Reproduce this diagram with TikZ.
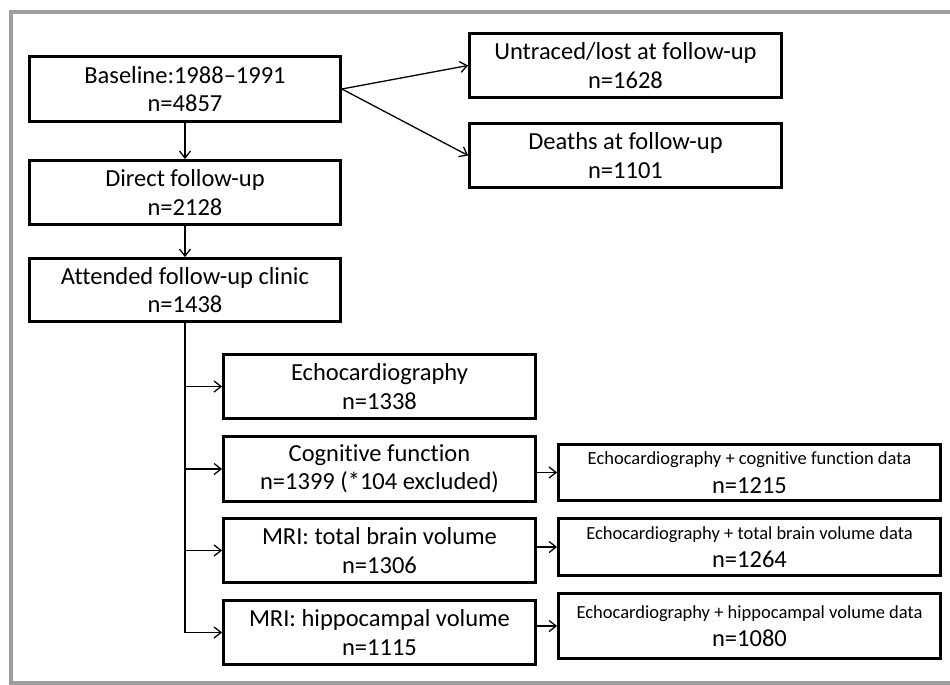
\documentclass[tikz,border=0pt]{standalone}
\usepackage{fontspec}
\setmainfont{Carlito}[Ligatures=NoCommon]
\usetikzlibrary{arrows.meta}
\begin{document}
\begin{tikzpicture}[x=1pt,y=-1pt,
  box/.style={draw,line width=2.8pt,align=center,inner sep=0pt,font=\fontsize{24.5}{28.5}\selectfont},
  lbox/.style={box,minimum width=311pt},
  rbox/.style={box,minimum width=382pt},
  conn/.style={line width=1.3pt,-{Straight Barb[length=7pt,width=11pt,line width=1.3pt]}},
  trunk/.style={line width=1.3pt},
  frame/.style={draw=black!38,line width=4pt}]
\useasboundingbox (0,0) rectangle (950,685);
\draw[frame] (952,12) -- (11,12) -- (11,683) -- (952,683);
% left column
\node[lbox,minimum height=65pt] (base) at (185,89) {Baseline:1988–1991\\n=4857};
\node[lbox,minimum height=64pt] (direct) at (185,192.5) {Direct follow-up\\n=2128};
\node[lbox,minimum height=63pt] (att) at (185,290) {Attended follow-up clinic\\n=1438};
% top right
\node[box,minimum width=312pt,minimum height=64pt] (untr) at (625.5,65.5) {Untraced/lost at follow-up\\n=1628};
\node[box,minimum width=312pt,minimum height=64pt] (death) at (625.5,155.5) {Deaths at follow-up\\n=1101};
% measures
\node[lbox,minimum width=312pt,minimum height=64pt] (echo) at (379.5,386.5) {Echocardiography\\n=1338};
\node[lbox,minimum width=312pt,minimum height=65pt] (cog) at (379.5,469) {Cognitive function\\n=1399 (*104 excluded)};
\node[lbox,minimum width=312pt,minimum height=64pt] (mri) at (379.5,550.5) {MRI: total brain volume\\n=1306};
\node[lbox,minimum width=312pt,minimum height=64pt] (hip) at (379.5,632.5) {MRI: hippocampal volume\\n=1115};
% combined
\node[rbox,minimum height=56pt] (r1) at (749.5,472.5) {{\fontsize{18.5}{22}\selectfont Echocardiography + cognitive function data}\\n=1215};
\node[rbox,minimum height=57pt] (r2) at (749.5,547) {{\fontsize{18.5}{22}\selectfont Echocardiography + total brain volume data}\\n=1264};
\node[rbox,minimum height=65pt] (r3) at (749.5,626) {{\fontsize{18.5}{22}\selectfont Echocardiography + hippocampal volume data}\\n=1080};
% connectors
\draw[conn] (base.east) -- (untr.west);
\draw[conn] (base.east) -- (death.west);
\draw[conn] (base) -- (direct);
\draw[conn] (direct) -- (att);
\draw[trunk] (att.south) -- (att.south |- hip.west);
\foreach \n in {echo,cog,mri,hip} \draw[conn] (att.south |- \n.west) -- (\n.west);
\draw[conn] (cog.east |- r1.west) -- (r1.west);
\draw[conn] (mri.east |- r2.west) -- (r2.west);
\draw[conn] (hip.east |- r3.west) -- (r3.west);
\end{tikzpicture}
\end{document}
